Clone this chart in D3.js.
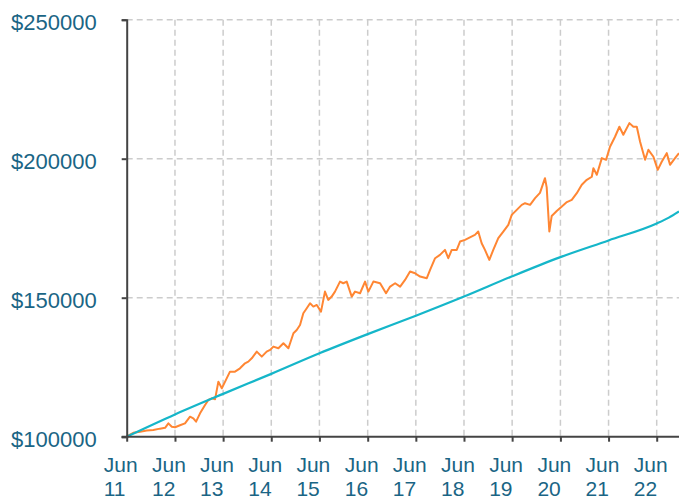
<!DOCTYPE html>
<html>
<head>
<meta charset="utf-8">
<script src="https://cdn.jsdelivr.net/npm/d3@7"></script>
<style>
  body { margin: 0; background: #fff; }
  text { font-family: "Liberation Sans", Arial, sans-serif; fill: #1a6585; }
</style>
</head>
<body>
<svg width="679" height="498"></svg>
<script>
// portfolio value (orange)
const portfolioDates = [
  "2011-06-01","2011-07-21","2011-09-10","2011-10-31","2011-12-20","2012-02-08","2012-03-18","2012-04-12",
  "2012-05-08","2012-06-02","2012-07-09","2012-08-16","2012-09-23","2012-10-18","2012-11-08","2012-12-08",
  "2013-01-15","2013-02-09","2013-03-07","2013-04-01","2013-04-26","2013-05-22","2013-06-28","2013-07-23",
  "2013-08-30","2013-10-07","2013-11-14","2013-12-09","2014-01-04","2014-02-11","2014-03-21","2014-04-27",
  "2014-05-23","2014-06-17","2014-07-25","2014-09-01","2014-10-09","2014-11-16","2014-12-11","2015-01-05",
  "2015-01-30","2015-02-25","2015-03-22","2015-04-16","2015-05-12","2015-06-13","2015-07-13","2015-08-07",
  "2015-09-02","2015-09-27","2015-11-04","2015-11-29","2015-12-25","2016-01-19","2016-02-01","2016-02-26",
  "2016-04-04","2016-05-12","2016-06-06","2016-07-14","2016-09-03","2016-10-18","2016-11-18","2016-12-26",
  "2017-02-02","2017-03-11","2017-04-18","2017-05-26","2017-07-03","2017-08-23","2017-09-17","2017-10-25",
  "2017-12-01","2018-01-08","2018-02-02","2018-02-28","2018-04-07","2018-05-02","2018-06-09","2018-07-16",
  "2018-08-23","2018-09-17","2018-10-13","2018-11-07","2018-12-10","2019-01-09","2019-02-16","2019-03-26",
  "2019-05-03","2019-05-29","2019-07-06","2019-08-13","2019-09-07","2019-10-15","2019-11-22","2019-12-29",
  "2020-02-05","2020-02-18","2020-03-09","2020-03-27","2020-05-04","2020-06-12","2020-07-20","2020-08-26",
  "2020-10-03","2020-11-10","2020-12-18","2021-01-25","2021-02-06","2021-03-04","2021-04-11","2021-05-13",
  "2021-06-12","2021-07-20","2021-08-22","2021-09-21","2021-11-06","2021-12-06","2022-01-01","2022-01-26",
  "2022-03-05","2022-03-30","2022-05-07","2022-06-09","2022-07-09","2022-08-16","2022-09-10","2022-10-18",
  "2022-11-17"
];
const portfolioValues = [
  100100,101400,101800,102200,102400,102900,103200,104800,
  103600,103400,104100,104800,107200,106600,105400,108400,
  111400,113200,113800,113500,119800,117400,121000,123400,
  123400,124600,126400,127000,128200,130600,128800,130600,
  131200,132400,131800,133600,131800,137200,138400,140200,
  144400,146200,148000,146800,147400,145000,152200,149200,
  150400,152200,155800,155200,155800,152200,150400,152200,
  151600,155800,152200,155800,155200,151600,154000,155200,
  154000,156400,159400,158800,157600,157000,160000,164200,
  165400,167200,164200,167200,167200,170200,170800,171700,
  172600,173800,169600,167200,163600,167200,171400,173800,
  176200,179800,181600,183400,184000,183400,185800,187700,
  193000,189700,173800,179400,181200,182800,184400,185200,
  187600,190600,192400,193500,196600,194200,200200,199600,
  204300,207900,211500,208600,212800,211500,211500,206100,
  199600,203200,200700,196000,198900,202000,197800,200200,
  202000
];

// benchmark (teal)
const benchmarkDates = [
  "2011-06-01","2012-06-01","2013-06-01","2014-06-01","2015-06-01","2016-06-01","2017-06-01",
  "2018-06-01","2019-06-01","2020-06-01","2021-06-01","2022-06-01","2022-09-01","2022-11-17"
];
const benchmarkValues = [
  100000,108000,115400,122600,130000,136900,143500,
  150400,157700,164600,170600,176700,178800,181000
];

const tickYears = ["11","12","13","14","15","16","17","18","19","20","21","22"];
const yTicks = [100000, 150000, 200000, 250000];

var svg = d3.select("svg"),
    width = +svg.attr("width"),
    height = +svg.attr("height");

var margin = {top: 19.7, right: 0, bottom: 61.3, left: 126.7};
var parse = d3.utcParse("%Y-%m-%d");

var portfolio = portfolioDates.map((d, i) => ({date: parse(d), value: portfolioValues[i]}));
var benchmark = benchmarkDates.map((d, i) => ({date: parse(d), value: benchmarkValues[i]}));
var tickDates = tickYears.map(y => parse("20" + y + "-06-01"));

var x = d3.scaleUtc()
    .domain([parse("2011-06-01"), parse("2022-11-17")])
    .range([margin.left, width - margin.right]);

var y = d3.scaleLinear()
    .domain([100000, 250000])
    .range([height - margin.bottom, margin.top]);

// gridlines
var grid = svg.append("g")
    .attr("stroke", "#cccccc")
    .attr("stroke-width", 1.5)
    .attr("stroke-dasharray", "6,4");

grid.selectAll(".hgrid")
    .data(yTicks.slice(1))
    .enter()
    .append("line")
    .attr("x1", margin.left)
    .attr("x2", width - margin.right)
    .attr("y1", d => y(d))
    .attr("y2", d => y(d));

grid.selectAll(".vgrid")
    .data(tickDates.slice(1))
    .enter()
    .append("line")
    .attr("x1", d => x(d))
    .attr("x2", d => x(d))
    .attr("y1", margin.top)
    .attr("y2", height - margin.bottom);

// lines
var line = d3.line()
    .x(d => x(d.date))
    .y(d => y(d.value));

svg.append("path")
    .datum(portfolio)
    .attr("fill", "none")
    .attr("stroke", "#ff8633")
    .attr("stroke-width", 2)
    .attr("stroke-linejoin", "round")
    .attr("d", line);

svg.append("path")
    .datum(benchmark)
    .attr("fill", "none")
    .attr("stroke", "#15b6c9")
    .attr("stroke-width", 2.2)
    .attr("d", line.curve(d3.curveMonotoneX));

// y axis
var yAxis = svg.append("g")
    .attr("transform", "translate(" + margin.left + ",0)")
    .call(d3.axisLeft(y).tickValues(yTicks).tickSize(5).tickPadding(25).tickFormat(d => "$" + d));

yAxis.select(".domain").attr("stroke", "#444").attr("stroke-width", 2);
yAxis.selectAll(".tick line").attr("stroke", "#444").attr("stroke-width", 2);
yAxis.selectAll(".tick text")
    .attr("font-size", 22)
    .attr("font-family", null)
    .attr("fill", null)
    .attr("dy", "0.45em");

// x axis
var xAxis = svg.append("g")
    .attr("transform", "translate(0," + (height - margin.bottom) + ")")
    .call(d3.axisBottom(x).tickValues(tickDates).tickSize(5).tickSizeOuter(0).tickFormat(""));

xAxis.select(".domain")
    .attr("stroke", "#444")
    .attr("stroke-width", 2)
    .attr("d", "M" + (margin.left - 5) + ",0H" + width);
xAxis.selectAll(".tick line").attr("stroke", "#444").attr("stroke-width", 2);

var labels = xAxis.selectAll(".tick")
    .append("text")
    .attr("font-size", 21)
    .attr("text-anchor", "start");

labels.append("tspan").attr("x", -23.5).attr("y", 35.5).text("Jun");
labels.append("tspan").attr("x", -23.5).attr("y", 59).text((d, i) => tickYears[i]);
</script>
</body>
</html>
